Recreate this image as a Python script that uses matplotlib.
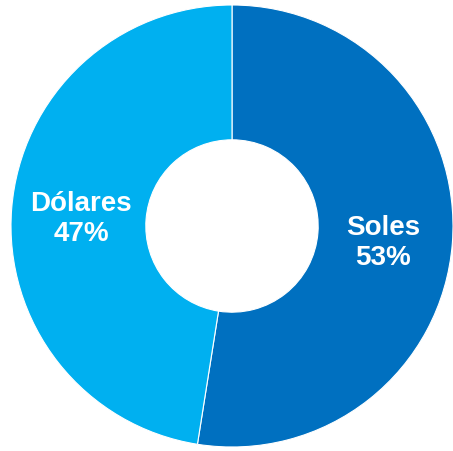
import numpy as np
from matplotlib import pyplot as plt

#%% Datos
monedas = ['Soles', 'Dólares']
porcentajes = [52.5, 47.5]
etiquetas = ['53%', '47%']
colores = ['#0070C0', '#00B0F0']

#%% Gráfico
fig = plt.figure(figsize=(4.53, 4.51), dpi=100)
ax = fig.add_axes([11/453, 4/451, 442/453, 442/451])

wedges, _ = ax.pie(porcentajes, colors=colores, startangle=90, counterclock=False,
                   radius=1, wedgeprops=dict(width=0.61, edgecolor='white', linewidth=0.8))

# etiquetas en el centro del anillo
for w, m, e in zip(wedges, monedas, etiquetas):
    ang = np.deg2rad((w.theta1 + w.theta2) / 2)
    r = 0.685
    ax.text(r*np.cos(ang), r*np.sin(ang) - 0.022, f'{m}\n{e}', ha='center', va='center',
            color='white', fontsize=20, fontweight='bold', family='Liberation Sans',
            linespacing=1.22)

ax.set_xlim(-1, 1)
ax.set_ylim(-1, 1)
ax.set_aspect('equal')
ax.axis('off')

fig.savefig('out.png', dpi=100)
